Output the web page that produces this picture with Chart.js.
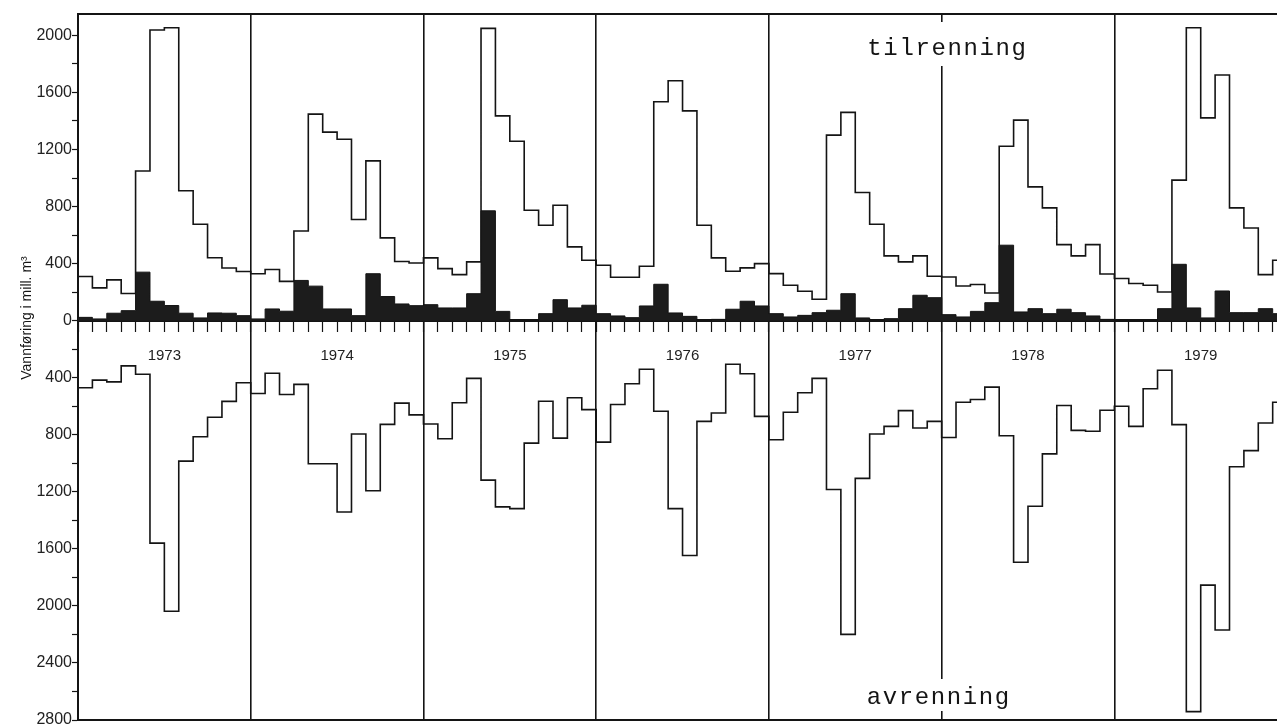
<!DOCTYPE html>
<html lang="no">
<head>
<meta charset="utf-8">
<title>Tilrenning og avrenning 1973-1979</title>
<script src="https://cdn.jsdelivr.net/npm/chart.js@4.4.1/dist/chart.umd.min.js"></script>
<style>
    html, body { margin: 0; padding: 0; background: #fff; }
    #wrap { width: 1277px; height: 724px; position: relative; }
</style>
</head>
<body>
<div id="wrap"><canvas id="flowChart"></canvas></div>
<script>
// ============================================
// Vannføring, månedsverdier 1973-1979
// ============================================

const years = [1973, 1974, 1975, 1976, 1977, 1978, 1979];

// tilrenning (hvit trappekurve, oppover)
const tilrenning = [
    310, 230, 286, 190, 1049, 2038, 2054, 911, 676, 441, 369, 345,
    329, 359, 275, 629, 1448, 1322, 1272, 709, 1120, 580, 415, 404,
    440, 365, 323, 412, 2049, 1436, 1258, 774, 669, 809, 517, 423,
    388, 304, 304, 381, 1535, 1682, 1471, 669, 440, 346, 370, 400,
    330, 248, 206, 150, 1301, 1460, 898, 676, 454, 412, 454, 311,
    306, 243, 253, 194, 1223, 1406, 938, 791, 533, 454, 533, 327,
    295, 260, 248, 201, 985, 2054, 1422, 1722, 791, 650, 323, 423
];

// svarte felt (oppover fra 0)
const lokal = [
    23, 12, 52, 70, 340, 136, 106, 52, 19, 54, 52, 35,
    12, 82, 66, 282, 242, 82, 82, 35, 329, 169, 117, 105,
    112, 89, 89, 189, 770, 65, 2, 0, 49, 147, 89, 108,
    49, 33, 21, 103, 255, 54, 30, 2, 9, 80, 136, 103,
    49, 26, 37, 56, 73, 189, 19, 2, 14, 84, 178, 161,
    42, 26, 65, 126, 529, 61, 84, 49, 80, 56, 33, 9,
    2, 0, 0, 84, 395, 89, 19, 208, 56, 56, 84, 49
];

// avrenning (trappekurve, tegnes nedover)
const avrenning = [
    471, 417, 429, 317, 376, 1560, 2038, 985, 814, 677, 566, 435,
    511, 369, 518, 447, 1003, 1003, 1342, 795, 1193, 727, 578, 661,
    725, 828, 576, 405, 1118, 1306, 1318, 859, 565, 824, 541, 624,
    852, 588, 442, 341, 635, 1318, 1647, 706, 647, 306, 372, 671,
    835, 642, 506, 405, 1184, 2200, 1106, 795, 741, 631, 753, 706,
    819, 572, 553, 466, 807, 1694, 1301, 934, 595, 769, 776, 628,
    600, 741, 478, 348, 729, 2741, 1854, 2169, 1024, 911, 718, 572
];

const yTicks = [0, 400, 800, 1200, 1600, 2000, 2400, 2800];

const INK = "#141414";
const X_MAX = 83.3;

// one point per month start, plus a closing point so the last step is drawn
function toSteps(values, sign) {
    const points = values.map((v, i) => ({ x: i, y: sign * v }));
    points.push({ x: values.length, y: sign * values[values.length - 1] });
    return points;
}

function yTickLabel(value) {
    const v = Math.round(Math.abs(value));
    if (!yTicks.includes(v)) return "";
    if (value < 0 && v === 0) return "";
    return String(v);
}

// keep the plot area exactly where the scales are told to be
function noPadding(scale) {
    scale.paddingLeft = 0;
    scale.paddingRight = 0;
    scale.paddingTop = 0;
    scale.paddingBottom = 0;
}

const panelText = {
    id: "panelText",
    afterDatasetsDraw(chart) {
        const { ctx, scales } = chart;
        const x = scales.x;
        const y = scales.y;

        const labels = [
            { text: "tilrenning", at: [60.4, 1905], box: [22, 66] },
            { text: "avrenning", at: [59.8, -2640], box: [679, 711] }
        ];

        ctx.save();
        ctx.font = "24px 'Liberation Mono', monospace";
        ctx.letterSpacing = "1.6px";
        ctx.textAlign = "center";
        ctx.textBaseline = "middle";
        labels.forEach((label) => {
            const px = x.getPixelForValue(label.at[0]);
            const py = y.getPixelForValue(label.at[1]);
            const w = ctx.measureText(label.text).width + 12;
            ctx.fillStyle = "#fff";
            ctx.fillRect(px - w / 2, label.box[0], w, label.box[1] - label.box[0]);
            ctx.fillStyle = INK;
            ctx.fillText(label.text, px, py);
        });
        ctx.restore();

        // y axis title
        ctx.save();
        ctx.font = "14px 'Liberation Sans', Arial, sans-serif";
        ctx.fillStyle = INK;
        ctx.textAlign = "center";
        ctx.textBaseline = "alphabetic";
        ctx.translate(y.left + 31, 318);
        ctx.rotate(-Math.PI / 2);
        ctx.fillText("Vannføring i mill. m³", 0, 0);
        ctx.restore();
    }
};

function initialiseFlowChart() {
    const canvas = document.getElementById("flowChart");
    if (!canvas || typeof Chart === "undefined") return;

    const stepLine = {
        stepped: true,
        pointRadius: 0,
        borderColor: INK,
        borderWidth: 1.6,
        fill: false
    };

    new Chart(canvas, {
        type: "line",
        data: {
            datasets: [
                {
                    label: "lokal",
                    data: toSteps(lokal, 1),
                    stepped: true,
                    pointRadius: 0,
                    borderColor: INK,
                    borderWidth: 1,
                    backgroundColor: "#1c1c1c",
                    fill: "origin"
                },
                { ...stepLine, label: "tilrenning", data: toSteps(tilrenning, 1) },
                { ...stepLine, label: "avrenning", data: toSteps(avrenning, -1) }
            ]
        },
        options: {
            responsive: true,
            maintainAspectRatio: false,
            animation: false,
            layout: { padding: 0 },
            plugins: {
                legend: { display: false },
                tooltip: { enabled: false }
            },
            scales: {
                x: {
                    type: "linear",
                    position: { y: 0 },
                    min: 0,
                    max: X_MAX,
                    ticks: {
                        stepSize: 1,
                        autoSkip: false,
                        includeBounds: false,
                        maxRotation: 0,
                        padding: 16,
                        color: "#222",
                        font: { family: "'Liberation Sans', Arial, sans-serif", size: 15 },
                        callback: (value) => {
                            const m = Math.round(value);
                            return m % 12 === 6 ? String(years[(m - 6) / 12]) : "";
                        }
                    },
                    grid: {
                        drawOnChartArea: false,
                        drawTicks: true,
                        tickLength: 10,
                        tickColor: INK,
                        tickWidth: 1.2
                    },
                    border: { display: true, color: INK, width: 3 },
                    afterFit: noPadding
                },
                xYear: {
                    type: "linear",
                    position: "bottom",
                    min: 0,
                    max: X_MAX,
                    ticks: { stepSize: 12, display: false, includeBounds: false },
                    grid: {
                        drawOnChartArea: true,
                        drawTicks: false,
                        color: INK,
                        lineWidth: 1.6
                    },
                    border: { display: true, color: INK, width: 2 },
                    afterFit: (scale) => { noPadding(scale); scale.height = 4; }
                },
                xTop: {
                    type: "linear",
                    position: "top",
                    min: 0,
                    max: X_MAX,
                    ticks: { display: false },
                    grid: { drawOnChartArea: false, drawTicks: false, color: "rgba(0,0,0,0)" },
                    border: { display: true, color: INK, width: 2 },
                    afterFit: (scale) => { noPadding(scale); scale.height = 14; }
                },
                y: {
                    min: -2800,
                    max: 2150,
                    ticks: {
                        stepSize: 200,
                        includeBounds: false,
                        autoSkip: false,
                        padding: 0,
                        color: "#222",
                        font: { family: "'Liberation Sans', Arial, sans-serif", size: 16 },
                        callback: yTickLabel
                    },
                    grid: {
                        drawOnChartArea: false,
                        drawTicks: true,
                        tickLength: 6,
                        tickColor: INK,
                        tickWidth: 1.2
                    },
                    border: { display: true, color: INK, width: 2 },
                    afterFit: (scale) => { noPadding(scale); scale.width = 78; }
                }
            }
        },
        plugins: [panelText]
    });
}

initialiseFlowChart();
</script>
</body>
</html>
